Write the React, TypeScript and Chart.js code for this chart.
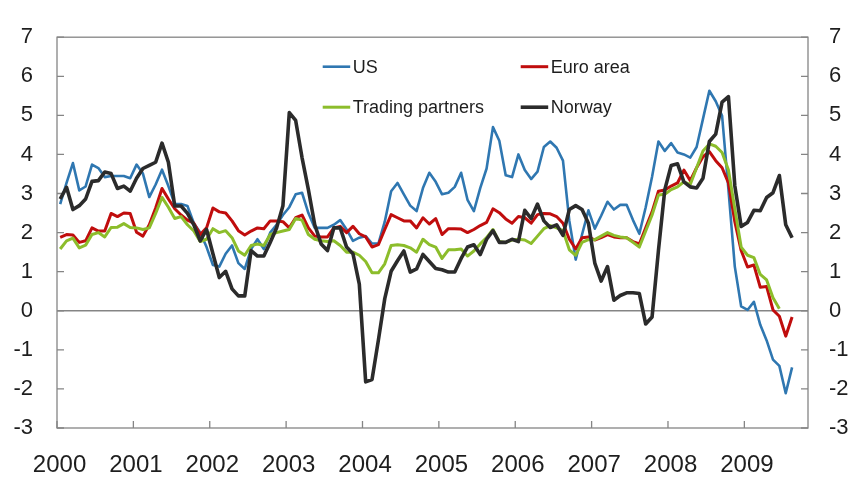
import React, { useEffect, useRef } from "react";
import Chart from "chart.js/auto";

const YEAR_LABELS = ["2000", "2001", "2002", "2003", "2004", "2005", "2006", "2007", "2008", "2009"];
const Y_TICKS = [-3, -2, -1, 0, 1, 2, 3, 4, 5, 6, 7];

// Monthly values from Jan 2000
const US = [
  2.73, 3.27, 3.78, 3.08, 3.18, 3.74, 3.65, 3.42, 3.45, 3.45, 3.45, 3.39,
  3.74, 3.51, 2.91, 3.23, 3.61, 3.19, 2.73, 2.73, 2.68, 2.24, 2.0, 1.63,
  1.17, 1.13, 1.46, 1.67, 1.22, 1.07, 1.58, 1.83, 1.58, 2.0, 2.2, 2.45,
  2.65, 2.98, 3.02, 2.5, 2.12, 2.12, 2.12, 2.2, 2.32, 2.08, 1.79, 1.87,
  1.91, 1.72, 1.72, 2.28, 3.06, 3.27, 2.98, 2.69, 2.55, 3.14, 3.53, 3.3,
  2.98, 3.02, 3.17, 3.53, 2.84, 2.55, 3.14, 3.64, 4.7, 4.35, 3.47, 3.42,
  4.0, 3.6, 3.37, 3.56, 4.19, 4.33, 4.17, 3.84, 2.3, 1.31, 1.95, 2.57,
  2.1, 2.43, 2.79, 2.59, 2.71, 2.71, 2.32, 1.97, 2.65, 3.43, 4.33, 4.09,
  4.29, 4.05, 4.0, 3.92, 4.19, 4.91, 5.63, 5.36, 4.99, 3.1, 1.13, 0.11,
  0.02, 0.23, -0.36, -0.76, -1.25, -1.41, -2.11, -1.45,
];
const EURO_AREA = [
  1.88, 1.95, 1.94, 1.75, 1.79, 2.12, 2.04, 2.04, 2.49, 2.41, 2.5, 2.49,
  2.01, 1.91, 2.2, 2.63, 3.13, 2.86, 2.61, 2.45, 2.32, 2.24, 1.95, 2.12,
  2.63, 2.53, 2.5, 2.3, 2.05, 1.94, 2.04, 2.12, 2.1, 2.3, 2.3, 2.28,
  2.12, 2.38, 2.45, 2.12, 1.91, 1.89, 1.89, 2.12, 2.16, 2.0, 2.16, 1.97,
  1.89, 1.63, 1.69, 2.08, 2.46, 2.38, 2.3, 2.3, 2.12, 2.38, 2.22, 2.36,
  1.95, 2.1, 2.1, 2.09, 2.0, 2.08, 2.18, 2.26, 2.61, 2.51, 2.35, 2.24,
  2.41, 2.38, 2.24, 2.46, 2.49, 2.48, 2.41, 2.24, 1.83, 1.58, 1.87, 1.89,
  1.81, 1.87, 1.95, 1.89, 1.87, 1.87, 1.77, 1.71, 2.12, 2.53, 3.06, 3.09,
  3.19, 3.27, 3.6, 3.33, 3.66, 3.94, 4.07, 3.84, 3.66, 3.27, 2.28, 1.54,
  1.12, 1.17, 0.6, 0.62, 0.02, -0.14, -0.65, -0.16,
];
const TRADING_PARTNERS = [
  1.58, 1.79, 1.86, 1.61, 1.68, 1.95, 2.0, 1.89, 2.13, 2.14, 2.23, 2.13,
  2.12, 2.08, 2.12, 2.49, 2.9, 2.65, 2.36, 2.41, 2.2, 2.04, 1.77, 1.83,
  2.1, 2.0, 2.05, 1.87, 1.53, 1.42, 1.67, 1.71, 1.67, 1.95, 2.0, 2.04,
  2.08, 2.36, 2.32, 1.95, 1.83, 1.79, 1.77, 1.79, 1.67, 1.5, 1.5, 1.42,
  1.26, 0.97, 0.97, 1.2, 1.67, 1.69, 1.67, 1.61, 1.5, 1.83, 1.69, 1.63,
  1.34, 1.56, 1.56, 1.58, 1.4, 1.53, 1.71, 1.87, 2.08, 1.77, 1.75, 1.81,
  1.83, 1.81, 1.72, 1.91, 2.1, 2.18, 2.12, 2.05, 1.56, 1.42, 1.75, 1.82,
  1.82, 1.91, 2.0, 1.93, 1.89, 1.87, 1.75, 1.63, 2.04, 2.45, 2.96, 2.98,
  3.1, 3.17, 3.3, 3.23, 3.66, 4.09, 4.27, 4.21, 4.05, 3.6, 2.61, 1.63,
  1.42, 1.36, 0.93, 0.79, 0.33, 0.05,
];
const NORWAY = [
  2.86, 3.16, 2.59, 2.69, 2.86, 3.31, 3.33, 3.55, 3.51, 3.13, 3.19, 3.06,
  3.39, 3.64, 3.72, 3.8, 4.29, 3.8, 2.68, 2.68, 2.49, 2.2, 1.79, 2.08,
  1.46, 0.85, 1.01, 0.56, 0.38, 0.38, 1.54, 1.4, 1.4, 1.75, 2.12, 2.69,
  5.07, 4.87, 3.92, 3.1, 2.2, 1.71, 1.54, 2.12, 2.12, 1.63, 1.46, 0.68,
  -1.82, -1.76, -0.75, 0.31, 1.01, 1.28, 1.53, 0.99, 1.07, 1.44, 1.26, 1.08,
  1.05, 0.99, 0.99, 1.34, 1.63, 1.69, 1.44, 1.83, 2.05, 1.75, 1.75, 1.83,
  1.77, 2.57, 2.36, 2.73, 2.3, 2.13, 2.2, 1.93, 2.59, 2.69, 2.59, 2.24,
  1.22, 0.76, 1.13, 0.27, 0.39, 0.46, 0.46, 0.44, -0.34, -0.16, 1.54, 3.1,
  3.72, 3.76, 3.3, 3.17, 3.14, 3.39, 4.33, 4.52, 5.34, 5.48, 3.2, 2.16,
  2.26, 2.57, 2.56, 2.9, 3.02, 3.46, 2.2, 1.87,
];

const SERIES = [
  { label: "US", data: US, color: "#2f77b1", width: 2.6, order: 3 },
  { label: "Euro area", data: EURO_AREA, color: "#c00d0d", width: 3, order: 2 },
  { label: "Trading partners", data: TRADING_PARTNERS, color: "#8cbd2b", width: 3, order: 1 },
  { label: "Norway", data: NORWAY, color: "#2b2b2b", width: 3.6, order: 0 },
];
const LEGEND_GRID = [
  ["US", "Euro area"],
  ["Trading partners", "Norway"],
];

const MONTHS_ON_AXIS = 118;
const FONT = "'Liberation Sans', Arial, sans-serif";
const AXIS_COLOR = "#858585";
const TEXT_COLOR = "#1e1e1e";

const framePlugin = {
  id: "frame",
  beforeDatasetsDraw(chart: any) {
    const { ctx, chartArea } = chart;
    const { left, right, top, bottom } = chartArea;
    const y = chart.scales.y;
    const x = chart.scales.x;
    ctx.save();
    ctx.strokeStyle = AXIS_COLOR;
    ctx.lineWidth = 1.3;
    const y0 = y.getPixelForValue(0);
    ctx.beginPath();
    ctx.moveTo(left, y0);
    ctx.lineTo(right, y0);
    ctx.stroke();
    ctx.strokeRect(left, top, right - left, bottom - top);
    const tl = 7;
    ctx.beginPath();
    Y_TICKS.forEach((v) => {
      const py = y.getPixelForValue(v);
      ctx.moveTo(left, py);
      ctx.lineTo(left + tl, py);
      ctx.moveTo(right, py);
      ctx.lineTo(right - tl, py);
    });
    YEAR_LABELS.forEach((_, k) => {
      const px = x.getPixelForValue(k * 12);
      ctx.moveTo(px, bottom);
      ctx.lineTo(px, bottom - tl);
    });
    ctx.stroke();
    ctx.restore();
  },
  afterDraw(chart: any) {
    const { ctx, chartArea } = chart;
    const colX = [chartArea.left + 265.7, chartArea.left + 463.7];
    const rowY = [chartArea.top + 29.5, chartArea.top + 70];
    const lineLen = 27.5;
    ctx.save();
    ctx.font = `18px ${FONT}`;
    ctx.textBaseline = "middle";
    ctx.fillStyle = TEXT_COLOR;
    LEGEND_GRID.forEach((row, r) => {
      row.forEach((name, c) => {
        const s = SERIES.find((d) => d.label === name)!;
        const lx = colX[c];
        const ly = rowY[r];
        ctx.strokeStyle = s.color;
        ctx.lineWidth = s.width;
        ctx.beginPath();
        ctx.moveTo(lx, ly);
        ctx.lineTo(lx + lineLen, ly);
        ctx.stroke();
        ctx.fillText(name, lx + lineLen + 2.5, ly + 1);
      });
    });
    ctx.restore();
  },
};

export default function App() {
  const ref = useRef<HTMLCanvasElement | null>(null);
  useEffect(() => {
    if (!ref.current) return;
    const chart = new Chart(ref.current, {
      type: "line",
      data: {
        datasets: SERIES.map((s) => ({
          label: s.label,
          data: s.data.map((v, i) => ({ x: i + 0.5, y: v })),
          borderColor: s.color,
          backgroundColor: s.color,
          borderWidth: s.width,
          pointRadius: 0,
          tension: 0,
          order: s.order,
          borderJoinStyle: "round" as const,
          yAxisID: "y",
        })),
      },
      options: {
        responsive: false,
        animation: false,
        layout: { padding: { top: 22, left: 0, right: 0, bottom: 0 } },
        plugins: { legend: { display: false }, tooltip: { enabled: false } },
        scales: {
          x: {
            type: "linear",
            min: 0,
            max: MONTHS_ON_AXIS,
            grid: { display: false, drawTicks: false },
            border: { display: false },
            afterBuildTicks: (scale: any) => {
              scale.ticks = YEAR_LABELS.map((_, k) => ({ value: k * 12 + 0.4 }));
            },
            ticks: {
              autoSkip: false,
              maxRotation: 0,
              padding: 23,
              color: TEXT_COLOR,
              font: { family: FONT, size: 24 },
              callback: (v: any) => YEAR_LABELS[Math.round((Number(v) - 0.4) / 12)],
            },
            afterFit: (scale: any) => {
              scale.height = 51;
            },
          },
          y: {
            type: "linear",
            position: "left",
            min: -3,
            max: 7,
            grid: { display: false, drawTicks: false },
            border: { display: false },
            ticks: {
              stepSize: 1,
              padding: 24,
              color: TEXT_COLOR,
              font: { family: FONT, size: 22 },
            },
            afterFit: (scale: any) => {
              scale.width = 57;
            },
          },
          y2: {
            type: "linear",
            position: "right",
            min: -3,
            max: 7,
            grid: { display: false, drawTicks: false },
            border: { display: false },
            ticks: {
              stepSize: 1,
              padding: 21,
              color: TEXT_COLOR,
              font: { family: FONT, size: 22 },
            },
            afterFit: (scale: any) => {
              scale.width = 50;
            },
          },
        },
      },
      plugins: [framePlugin],
    });
    return () => chart.destroy();
  }, []);
  return (
    <div style={{ position: "fixed", left: 0, top: 0, width: 858, height: 479, background: "#fff" }}>
      <canvas ref={ref} width={858} height={479} />
    </div>
  );
}
